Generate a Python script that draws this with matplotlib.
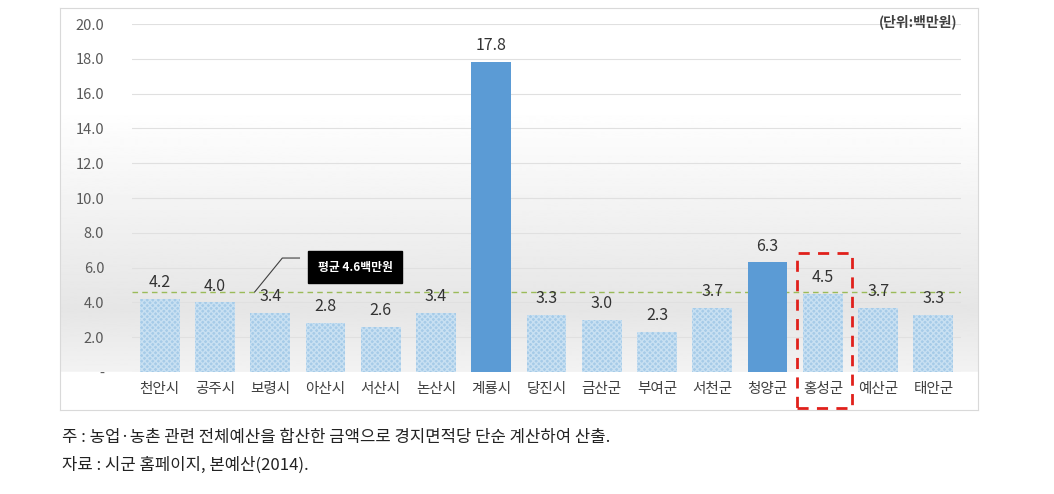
import matplotlib.pyplot as plt
import numpy as np
from matplotlib.patches import Rectangle

plt.rcParams['font.family'] = ['Noto Sans CJK KR', 'DejaVu Sans']

regions = ['천안시', '공주시', '보령시', '아산시', '서산시', '논산시', '계룡시', '당진시',
           '금산군', '부여군', '서천군', '청양군', '홍성군', '예산군', '태안군']
budget = [4.2, 4.0, 3.4, 2.8, 2.6, 3.4, 17.8, 3.3, 3.0, 2.3, 3.7, 6.3, 4.5, 3.7, 3.3]
highlight = ['계룡시', '청양군']
mean_value = 4.6
yticks = [0, 2, 4, 6, 8, 10, 12, 14, 16, 18, 20]
ytick_labels = ['-'] + ['%.1f' % v for v in yticks[1:]]

W, H = 1054, 494
fig = plt.figure(figsize=(W / 100, H / 100), dpi=100)

# chart frame with grey gradient background
bg = fig.add_axes([60 / W, 1 - 410 / H, (978 - 60) / W, (410 - 8) / H])
rows = np.linspace(0, 1, 400)
top_end = (372 - 8) / (410 - 8)
vals = np.where(rows < 0.25, 1.0,
                np.where(rows < 0.75, 1.0 - 0.1 * (rows - 0.25) / 0.5,
                         np.where(rows < top_end, 0.9 + 0.05 * (rows - 0.75) / (top_end - 0.75), 1.0)))
bg.imshow(vals[:, None], aspect='auto', cmap='gray', vmin=0, vmax=1, extent=[0, 1, 0, 1])
bg.set_xticks([])
bg.set_yticks([])
for s in bg.spines.values():
    s.set_color('#d9d9d9')

ax = fig.add_axes([132 / W, 1 - 372 / H, (961 - 132) / W, (372 - 24) / H])
ax.patch.set_alpha(0)
x = np.arange(len(regions))

for xi, name, v in zip(x, regions, budget):
    if name in highlight:
        ax.bar(xi, v, width=0.72, color='#5b9bd5', zorder=3)
    else:
        ax.bar(xi, v, width=0.72, color='#a6cbe8', edgecolor='#c8e0f2',
               hatch='xxxxxx', linewidth=0, zorder=3)
    ax.text(xi, v + 0.45, '%.1f' % v, ha='center', va='bottom',
            fontsize=11.5, color='#333333', zorder=4)

ax.axhline(mean_value, color='#9bbb59', linestyle=(0, (4, 3)), linewidth=1, zorder=2)

ax.set_xlim(-0.5, len(regions) - 0.5)
ax.set_ylim(0, 20)
ax.set_yticks(yticks)
ax.set_yticklabels(ytick_labels, fontsize=10.5, color='#595959')
ax.set_xticks(x)
ax.set_xticklabels(regions, fontsize=10.5, color='#404040')
ax.tick_params(length=0)
ax.tick_params(axis='y', pad=20)
ax.tick_params(axis='x', pad=7)
ax.grid(axis='y', color='#e0e0e0', linewidth=0.8, zorder=0)
ax.set_axisbelow(True)
for s in ax.spines.values():
    s.set_visible(False)

# mean annotation
ax.plot([1.72, 2.22, 2.53], [mean_value, 6.55, 6.55], color='#404040', lw=0.8, zorder=4)
ax.text(3.54, 6.03, '평균 4.6백만원', ha='center', va='center', fontsize=8.5,
        color='white', fontweight='bold', zorder=5,
        bbox=dict(boxstyle='square,pad=0.8', fc='black', ec='black'))

# highlighted box around 홍성군
fig.patches.append(Rectangle((797 / W, 1 - 408 / H), (852 - 797) / W, (408 - 253) / H,
                             transform=fig.transFigure, fill=False, edgecolor='#e0201b',
                             linestyle=(0, (4, 3)), linewidth=2, zorder=10))

fig.text(957 / W, 1 - 22 / H, '(단위:백만원)', ha='right', va='center',
         fontsize=10, fontweight='bold', color='#404040')

fig.text(62 / W, 1 - 437 / H,
         '주 : 농업·농촌 관련 전체예산을 합산한 금액으로 경지면적당 단순 계산하여 산출.',
         ha='left', va='center', fontsize=12, color='#222222')
fig.text(62 / W, 1 - 465 / H, '자료 : 시군 홈페이지, 본예산(2014).',
         ha='left', va='center', fontsize=12, color='#222222')

fig.savefig('out.png', dpi=100)
